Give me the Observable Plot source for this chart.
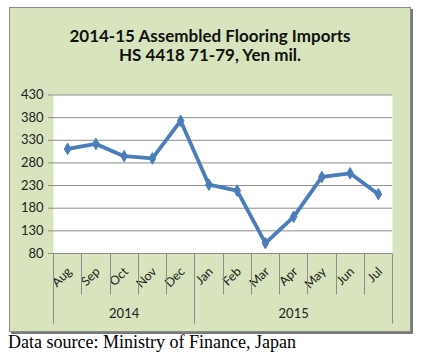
<!DOCTYPE html>
<html>
<head>
<meta charset="utf-8">
<script src="https://cdn.jsdelivr.net/npm/d3@7"></script>
<script src="https://cdn.jsdelivr.net/npm/@observablehq/plot@0.6"></script>
<style>
  html, body { margin: 0; padding: 0; background: #fff; }
  body { width: 424px; height: 360px; position: relative; overflow: hidden; }
  #box {
    position: absolute; left: 9px; top: 7px; width: 400px; height: 323px;
    background: #d7e4bd; border: 1px solid #8a8a8a; box-shadow: 2px 2px 0 #7a7a7a;
  }
  #title {
    position: absolute; left: 0; top: 18px; width: 400px; text-align: center;
    font-family: Lato, "Open Sans", sans-serif; font-weight: bold; font-size: 17px;
    line-height: 19px; color: #111;
  }
  #chart { position: absolute; left: 0; top: 67px; }
  #caption {
    position: absolute; left: 8px; top: 332px;
    font-family: "Liberation Serif", "DejaVu Serif", serif; font-size: 18px; color: #000;
  }
</style>
</head>
<body>
<div id="box">
  <div id="title">2014-15 Assembled Flooring Imports<br>HS 4418 71-79, Yen mil.</div>
  <div id="chart"></div>
</div>
<div id="caption">Data source: Ministry of Finance, Japan</div>
<script>
const months = ["Aug","Sep","Oct","Nov","Dec","Jan","Feb","Mar","Apr","May","Jun","Jul"];
const values = [311, 322, 295, 290, 373, 232, 219, 103, 161, 249, 257, 211];
const years = ["2014","2015"];
const yearStart = [0, 5];
const yearEnd = [5, 12];
const yTicks = [80, 130, 180, 230, 280, 330, 380, 430];

const data = months.map((m, i) => ({i: i + 0.5, month: m, value: values[i]}));
const seps = d3.range(months.length + 1);
const yearSeps = [0, 5, 12];
const yearData = years.map((y, k) => ({year: y, mid: (yearStart[k] + yearEnd[k]) / 2}));

const font = "Lato, 'Open Sans', sans-serif";
const blue = "#4a7ebb";

const chart = Plot.plot({
  width: 400,
  height: 255,
  marginLeft: 43,
  marginRight: 18,
  marginTop: 19.5,
  marginBottom: 77,
  style: {background: "transparent", fontFamily: font, fontSize: "12px", color: "#222"},
  x: {type: "linear", domain: [0, months.length], axis: null},
  y: {domain: [80, 430], axis: null},
  marks: [
    Plot.frame({fill: "white", stroke: null}),
    Plot.ruleY(yTicks, {stroke: "#8c8c8c", strokeWidth: 1, insetLeft: -5}),
    Plot.axisY({ticks: yTicks, tickSize: 0, tickPadding: 10, fontSize: 13, fill: "#222", label: null}),
    Plot.line(data, {x: "i", y: "value", stroke: blue, strokeWidth: 3.8, strokeLinejoin: "round", strokeLinecap: "round"}),
    Plot.dot(data, {x: "i", y: "value", symbol: "diamond", r: 3.5, fill: blue, stroke: blue, strokeWidth: 1}),
    Plot.text(data, {x: "i", y: 80, text: "month", rotate: -45, textAnchor: "end", dx: 2, dy: 16,
      fontSize: 12.5, fill: "#222"}),
    Plot.text(yearData, {x: "mid", y: 80, text: "year", dy: 60, fontSize: 13, fill: "#222"})
  ]
});

document.getElementById("chart").appendChild(chart);

const xs = chart.scale("x"), ys = chart.scale("y");
const svg = d3.select(chart);
const y0 = Math.round(ys.apply(80)) + 0.5;
const g = svg.append("g").attr("stroke", "#8c8c8c").attr("stroke-width", 1);
g.append("line").attr("x1", xs.apply(0)).attr("x2", xs.apply(months.length)).attr("y1", y0).attr("y2", y0);
seps.forEach(s => {
  const big = yearSeps.includes(s);
  const x = Math.round(xs.apply(s)) + 0.5;
  g.append("line").attr("x1", x).attr("x2", x).attr("y1", y0).attr("y2", y0 + (big ? 70 : 41));
});
</script>
</body>
</html>
